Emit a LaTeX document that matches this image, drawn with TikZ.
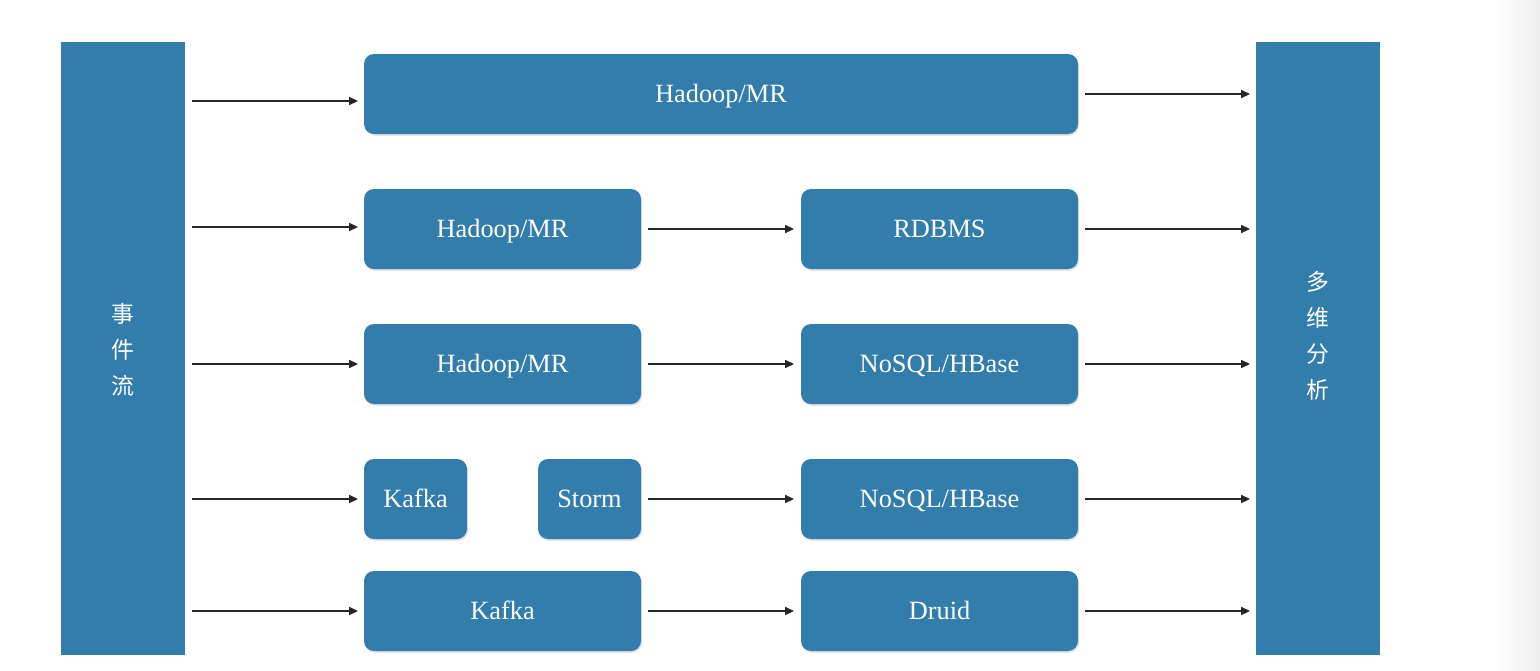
\documentclass[tikz,border=0pt]{standalone}
\usepackage{fontspec}
\setmainfont{Liberation Serif}
\newfontfamily\cjk{Noto Sans CJK SC}
\usetikzlibrary{shadows,arrows.meta}
\definecolor{boxblue}{RGB}{50,125,172}
\tikzset{
  px/.style={x=0.02cm,y=-0.02cm},
  blk/.style={fill=boxblue,draw=none,inner sep=0pt,outer sep=0pt,text=white,
    font=\fontsize{15}{18}\selectfont,text height=9.93pt,text depth=0pt,
    drop shadow={opacity=0.22,shadow xshift=0.6pt,shadow yshift=-1pt}},
  rbox/.style={blk,rounded corners=0.2cm},
  bar/.style={fill=boxblue,draw=none,inner sep=0pt,outer sep=0pt,text=white,
    font=\cjk\fontsize{13}{20.5}\selectfont,align=center},
  arr/.style={-{Triangle[length=5pt,width=4.5pt]},line width=0.9pt,black!85}
}
\newcommand{\bx}[7][rbox]{%
  \node[#1,minimum width={(#5-#3)*0.02cm},minimum height={(#6-#4)*0.02cm}]
    (#2) at ({(#3+#5)/2},{(#4+#6)/2}) {#7};}
\begin{document}
\begin{tikzpicture}[px]
\useasboundingbox[fill=white] (0,0) rectangle (1540,670);
\shade[left color=white,right color=black!7,draw=none] (1498,0) rectangle (1540,670);
% bars
\bx[bar]{L}{61}{42}{185}{655}{}
\bx[bar]{R}{1256}{42}{1380}{655}{}
\node[bar,fill=none] (Lt) at (123,350) {事\\件\\流};
\node[bar,fill=none] (Rt) at (1318,336) {多\\维\\分\\析};
% boxes
\bx{a1}{364}{54}{1078}{134}{Hadoop/MR}
\bx{b1}{364}{189}{641}{269}{Hadoop/MR}
\bx{b2}{801}{189}{1078}{269}{RDBMS}
\bx{c1}{364}{324}{641}{404}{Hadoop/MR}
\bx{c2}{801}{324}{1078}{404}{NoSQL/HBase}
\bx{d1}{364}{459}{467}{539}{Kafka}
\bx{d2}{538}{459}{641}{539}{Storm}
\bx{d3}{801}{459}{1078}{539}{NoSQL/HBase}
\bx{e1}{364}{571}{641}{651}{Kafka}
\bx{e2}{801}{571}{1078}{651}{Druid}
% left arrows
\draw[arr] ([xshift=7*0.02cm,yshift=-7*0.02cm]L.east |- a1.west) -- ([xshift=-6*0.02cm,yshift=-7*0.02cm]a1.west);
\draw[arr] ([xshift=7*0.02cm,yshift=2*0.02cm]L.east |- b1.west) -- ([xshift=-6*0.02cm,yshift=2*0.02cm]b1.west);
\foreach \n in {c1,d1,e1}{
  \draw[arr] ([xshift=7*0.02cm]L.east |- \n.west) -- ([xshift=-6*0.02cm]\n.west);
}
% middle arrows
\draw[arr] ([xshift=7*0.02cm]b1.east) -- ([xshift=-7*0.02cm]b2.west);
\draw[arr] ([xshift=7*0.02cm]c1.east) -- ([xshift=-7*0.02cm]c2.west);
\draw[arr] ([xshift=7*0.02cm]d2.east) -- ([xshift=-7*0.02cm]d3.west);
\draw[arr] ([xshift=7*0.02cm]e1.east) -- ([xshift=-7*0.02cm]e2.west);
% right arrows
\foreach \n in {a1,b2,c2,d3,e2}{
  \draw[arr] ([xshift=7*0.02cm]\n.east) -- ([xshift=-6*0.02cm]R.west |- \n.east);
}
\end{tikzpicture}
\end{document}
